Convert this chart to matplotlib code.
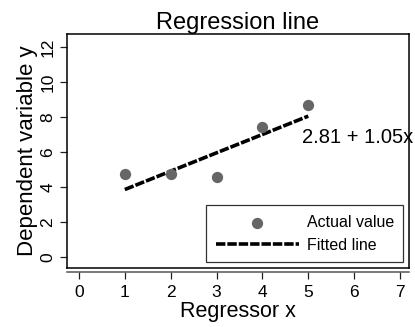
import matplotlib
matplotlib.use("Agg")
import matplotlib.pyplot as plt

plt.rcParams["font.family"] = ["Liberation Sans", "DejaVu Sans"]

# data
x_vals = [1, 2, 3, 4, 5]
actual = [4.75, 4.75, 4.57, 7.45, 8.67]
fitted = [3.86, 4.91, 5.96, 7.01, 8.06]
equation = "2.81 + 1.05x"
x_ticks = [0, 1, 2, 3, 4, 5, 6, 7]
y_ticks = [0, 2, 4, 6, 8, 10, 12]

fig = plt.figure(figsize=(4.15, 3.27), dpi=100)
ax = fig.add_axes([0.1607, 0.1804, 0.8249, 0.7147])

ax.scatter(x_vals, actual, s=66, color="#666666", zorder=3, label="Actual value",
           linewidths=0)
ax.plot(x_vals, fitted, color="black", lw=2.6, linestyle=(0, (2.6, 0.55)),
        zorder=2, label="Fitted line", dash_capstyle="butt")
ax.text(4.86, 6.86, equation, fontsize=14.5, va="center", ha="left", clip_on=False)

ax.set_xlim(-0.268, 7.197)
ax.set_ylim(-0.63, 12.74)
ax.set_xticks(x_ticks)
ax.set_yticks(y_ticks)
ax.tick_params(axis="both", length=5, width=0.9, labelsize=12.5, color="#222222")
ax.tick_params(axis="x", pad=4)
ax.tick_params(axis="y", pad=3)
for lab in ax.get_yticklabels():
    lab.set_rotation(90)
    lab.set_va("center")

for s in ax.spines.values():
    s.set_linewidth(1.1)
    s.set_color("black")
ax.spines["bottom"].set_position(("outward", 3))
ax.spines["bottom"].set_color("#555555")
ax.plot([0, 1], [0, 0], transform=ax.transAxes, color="black", lw=1.1, clip_on=False)

ax.set_title("Regression line", fontsize=17, pad=3)
ax.set_xlabel("Regressor x", fontsize=15.5, labelpad=1)
ax.set_ylabel("Dependent variable y", fontsize=16, labelpad=2)

leg = ax.legend(loc="lower right", fontsize=11.5, frameon=True, fancybox=False,
                edgecolor="black", handlelength=5.2, handletextpad=0.5,
                borderaxespad=0.35, borderpad=0.6, labelspacing=0.5, markerscale=1.0)
leg.get_frame().set_linewidth(0.9)

fig.savefig("out.png", dpi=100)
